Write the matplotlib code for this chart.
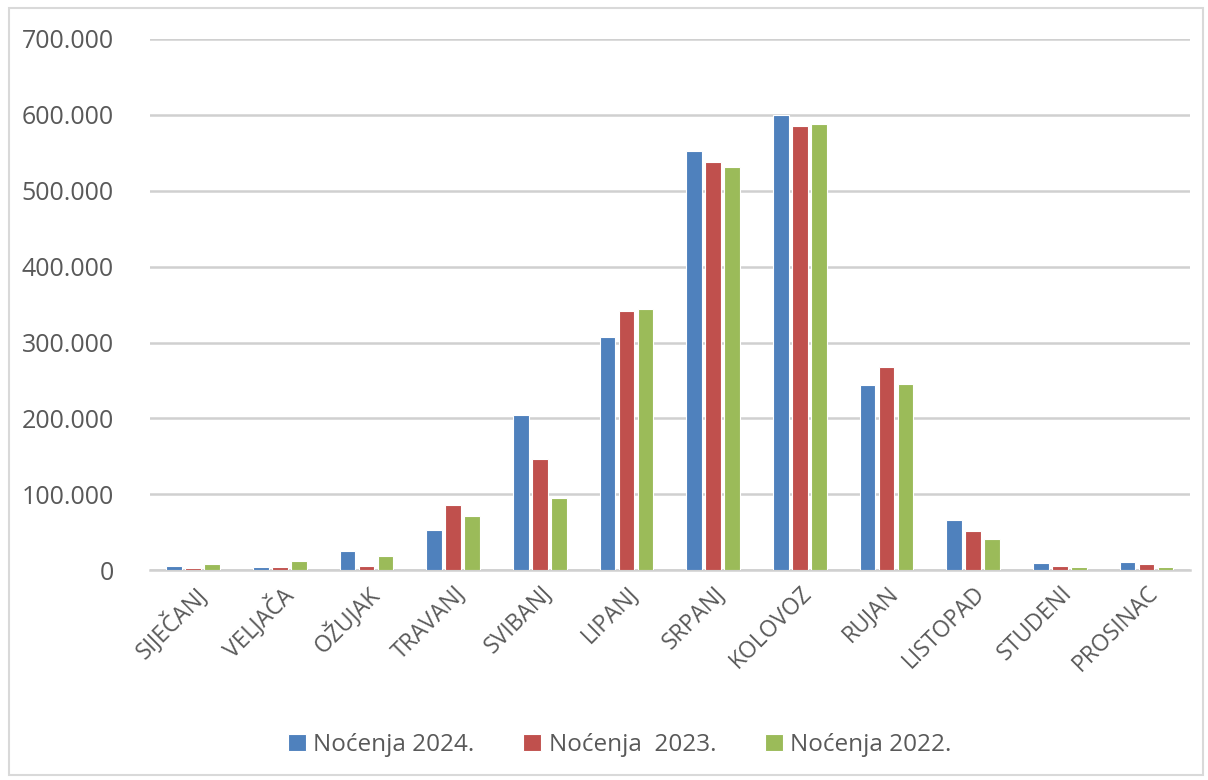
import numpy as np
import matplotlib.pyplot as plt
from matplotlib.patches import Rectangle
from matplotlib.ticker import FuncFormatter, MultipleLocator

plt.rcParams['font.family'] = ['Open Sans', 'DejaVu Sans']

months = ['SIJEČANJ', 'VELJAČA', 'OŽUJAK', 'TRAVANJ', 'SVIBANJ', 'LIPANJ',
          'SRPANJ', 'KOLOVOZ', 'RUJAN', 'LISTOPAD', 'STUDENI', 'PROSINAC']
nocenja_2024 = [5300, 4000, 25400, 53600, 204000, 307000,
                553000, 600000, 244000, 66300, 9200, 11400]
nocenja_2023 = [3500, 4000, 5700, 86500, 146000, 341000,
                538000, 585000, 268000, 51800, 5300, 7900]
nocenja_2022 = [8800, 11800, 18900, 71100, 95000, 344000,
                531000, 588000, 246000, 40800, 4000, 4000]
series_labels = ['Noćenja 2024.', 'Noćenja  2023.', 'Noćenja 2022.']
colors = ['#4F81BD', '#C0504D', '#9BBB59']

fig = plt.figure(figsize=(12.08, 7.8), dpi=100)
ax = fig.add_axes([0.124, 0.269, 0.861, 0.681])

x = np.arange(len(months))
step = 0.22
width = 0.18
for i, (vals, lab, col) in enumerate(zip([nocenja_2024, nocenja_2023, nocenja_2022],
                                         series_labels, colors)):
    ax.bar(x + (i - 1) * step, vals, width, color=col, label=lab,
           edgecolor='white', linewidth=0.8, zorder=3)

ax.set_xlim(-0.5, len(months) - 0.5)
ax.set_ylim(0, 700000)
ax.yaxis.set_major_locator(MultipleLocator(100000))
ax.yaxis.set_major_formatter(FuncFormatter(lambda v, p: f'{int(v):,}'.replace(',', '.')))
ax.grid(axis='y', color='#D0D0D0', linewidth=1.8, zorder=0)
ax.set_axisbelow(True)

for s in ['top', 'right', 'left']:
    ax.spines[s].set_visible(False)
ax.spines['bottom'].set_color('#D0D0D0')
ax.spines['bottom'].set_linewidth(1.8)

ax.set_xticks(x)
ax.set_xticklabels(months, rotation=45, ha='right', rotation_mode='anchor',
                   fontsize=16.5, color='#595959')
ax.tick_params(axis='x', length=0, pad=8)
ax.tick_params(axis='y', length=0, pad=26, labelsize=18, labelcolor='#595959')

leg = fig.legend(loc='center', bbox_to_anchor=(0.513, 0.045), ncol=3, frameon=False,
                 fontsize=17.5, handlelength=0.75, handleheight=0.75, handletextpad=0.3,
                 columnspacing=2.0)
for t in leg.get_texts():
    t.set_color('#595959')

fig.patches.append(Rectangle((0.0075, 0.006), 0.988, 0.984, transform=fig.transFigure,
                             fill=False, edgecolor='#D9D9D9', linewidth=1.5))

fig.savefig('out.png', dpi=100)
